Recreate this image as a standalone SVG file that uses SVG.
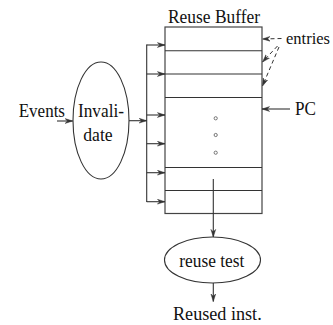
<svg xmlns="http://www.w3.org/2000/svg" width="333" height="325" viewBox="0 0 333 325">
<defs>
<style>
text{font-family:"Liberation Serif","Times New Roman",serif;font-size:19px;fill:#111}
.ln{fill:none;stroke:#333;stroke-width:1.1}
.box{fill:#fff;stroke:#444;stroke-width:1.2}
.dash{fill:none;stroke:#333;stroke-width:1;stroke-dasharray:4 3}
.dot{fill:none;stroke:#666;stroke-width:0.9}
</style>
<marker id="ah" viewBox="0 0 10 8" refX="9.5" refY="4" markerWidth="8" markerHeight="6.4" orient="auto" markerUnits="userSpaceOnUse">
<path d="M0,1 L9.5,4 L0,7 L3,4 z" fill="#333" stroke="#333" stroke-width="0.6"/>
</marker>
</defs>
<rect width="333" height="325" fill="#fff"/>
<g id="buffer">
<rect class="box" x="165" y="27" width="97" height="186.5"/>
<line class="ln" x1="165" y1="50.7" x2="262" y2="50.7"/>
<line class="ln" x1="165" y1="74" x2="262" y2="74"/>
<line class="ln" x1="165" y1="97.5" x2="262" y2="97.5"/>
<line class="ln" x1="165" y1="167.5" x2="262" y2="167.5"/>
<line class="ln" x1="165" y1="190.5" x2="262" y2="190.5"/>
<circle class="dot" cx="215.7" cy="118.3" r="1.6"/>
<circle class="dot" cx="215.7" cy="135" r="1.6"/>
<circle class="dot" cx="215.7" cy="152.7" r="1.6"/>
<text x="168" y="22.7" textLength="92" lengthAdjust="spacingAndGlyphs">Reuse Buffer</text>
</g>
<g id="invalidate">
<ellipse class="ln" cx="101" cy="120.5" rx="28" ry="58.5"/>
<text x="78" y="116.7" textLength="46" lengthAdjust="spacingAndGlyphs">Invali-</text>
<text x="83.3" y="141" textLength="29.4" lengthAdjust="spacingAndGlyphs">date</text>
</g>
<g id="events"><text x="18.7" y="116.7" textLength="46.3" lengthAdjust="spacingAndGlyphs">Events</text></g>
<g id="entries"><text x="286" y="44" style="font-size:16.5px" textLength="44" lengthAdjust="spacingAndGlyphs">entries</text></g>
<g id="pc"><text x="295" y="115" textLength="21" lengthAdjust="spacingAndGlyphs">PC</text></g>
<g id="reusetest">
<ellipse class="ln" cx="212.5" cy="260" rx="48" ry="23"/>
<text x="179.3" y="266.5" textLength="65" lengthAdjust="spacingAndGlyphs">reuse test</text>
</g>
<g id="reused"><text x="173" y="320" textLength="88.7" lengthAdjust="spacingAndGlyphs">Reused inst.</text></g>
<g id="connectors">
<line class="ln" x1="57" y1="121" x2="72.7" y2="121" marker-end="url(#ah)"/>
<line class="ln" x1="129" y1="120.7" x2="146.7" y2="120.7" marker-end="url(#ah)"/>
<line class="ln" x1="146.7" y1="44.5" x2="146.7" y2="202"/>
<line class="ln" x1="146.7" y1="45" x2="165" y2="45" marker-end="url(#ah)"/>
<line class="ln" x1="146.7" y1="74" x2="165" y2="74" marker-end="url(#ah)"/>
<line class="ln" x1="146.7" y1="115" x2="165" y2="115" marker-end="url(#ah)"/>
<line class="ln" x1="146.7" y1="143.7" x2="165" y2="143.7" marker-end="url(#ah)"/>
<line class="ln" x1="146.7" y1="172.7" x2="165" y2="172.7" marker-end="url(#ah)"/>
<line class="ln" x1="146.7" y1="201.7" x2="165" y2="201.7" marker-end="url(#ah)"/>
<line class="ln" x1="290" y1="109" x2="262" y2="109" marker-end="url(#ah)"/>
<line class="dash" x1="281.5" y1="38.5" x2="262.5" y2="39" marker-end="url(#ah)"/>
<line class="dash" x1="277.5" y1="46" x2="262.5" y2="62" marker-end="url(#ah)"/>
<line class="dash" x1="279" y1="47" x2="262.5" y2="86" marker-end="url(#ah)"/>
<line class="ln" x1="213.3" y1="179" x2="213.3" y2="237" marker-end="url(#ah)"/>
<line class="ln" x1="213.3" y1="283" x2="213.3" y2="301.5" marker-end="url(#ah)"/>
</g>
</svg>
